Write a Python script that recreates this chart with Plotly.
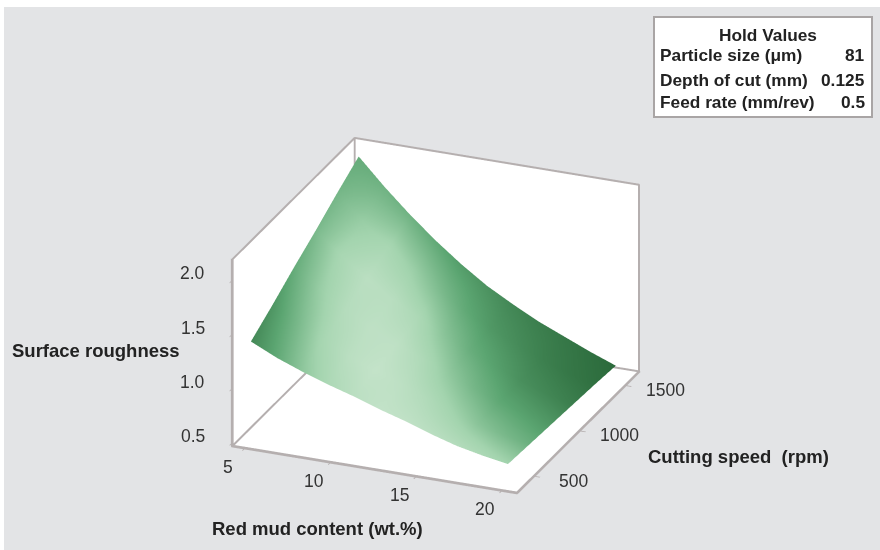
import plotly.graph_objects as go

red_mud = [5, 6.5, 8, 9.5, 11, 12.5, 14, 15.5, 17, 18.5, 20]
speed = [380, 616, 852, 1088, 1324, 1560]
roughness = [
    [1.40, 1.29, 1.20, 1.12, 1.05, 0.97, 0.90, 0.82, 0.75, 0.70, 0.66],
    [1.54, 1.41, 1.29, 1.18, 1.09, 1.00, 0.92, 0.83, 0.75, 0.69, 0.645],
    [1.69, 1.53, 1.38, 1.25, 1.14, 1.04, 0.94, 0.85, 0.76, 0.69, 0.63],
    [1.83, 1.64, 1.47, 1.32, 1.19, 1.07, 0.96, 0.86, 0.76, 0.68, 0.615],
    [1.98, 1.76, 1.56, 1.39, 1.23, 1.09, 0.97, 0.86, 0.76, 0.67, 0.60],
    [2.12, 1.88, 1.66, 1.46, 1.28, 1.12, 0.99, 0.87, 0.77, 0.67, 0.58],
]
shade = [
    [0.18, 0.38, 0.60, 0.78, 0.90, 0.97, 0.95, 0.90, 0.85, 0.78, 0.70],
    [0.26, 0.50, 0.75, 0.90, 0.98, 0.92, 0.82, 0.70, 0.58, 0.50, 0.43],
    [0.40, 0.65, 0.85, 0.93, 0.93, 0.80, 0.62, 0.48, 0.37, 0.32, 0.27],
    [0.50, 0.75, 0.90, 0.88, 0.78, 0.58, 0.42, 0.32, 0.22, 0.17, 0.12],
    [0.48, 0.65, 0.75, 0.66, 0.52, 0.38, 0.27, 0.20, 0.13, 0.08, 0.04],
    [0.40, 0.45, 0.45, 0.38, 0.30, 0.24, 0.17, 0.12, 0.08, 0.04, 0.00],
]
x_ticks = [5, 10, 15, 20]
y_ticks = [500, 1000, 1500]
z_ticks = [0.5, 1.0, 1.5, 2.0]
x_range = [4.25, 20.9]
y_range = [312, 1654]
z_range = [0.47, 2.2]
hold_labels = ["Particle size (μm)", "Depth of cut (mm)", "Feed rate (mm/rev)"]
hold_values = ["81", "0.125", "0.5"]

W, H, OX, OY = 876, 543, 4, 7
FONT = "Liberation Sans"
LINE = "#b5afaf"
axis = dict(showgrid=False, zeroline=False, showline=True, linecolor=LINE, linewidth=4,
            showbackground=True, backgroundcolor="white", ticks="outside", ticklen=6,
            tickcolor=LINE, tickwidth=2, showspikes=False, title=dict(text=""), showticklabels=False)

fig = go.Figure(go.Surface(
    x=red_mud, y=speed, z=roughness, surfacecolor=shade, cmin=0, cmax=1, showscale=False,
    colorscale=[[0, "#2b6a3b"], [0.35, "#5ba571"], [0.7, "#a3d4ae"], [1, "#c6e4cb"]],
    lighting=dict(ambient=1, diffuse=0, specular=0, roughness=1, fresnel=0),
    hoverinfo="skip"))

# frame of the walls, from the axis limits, kept just inside them so it is not clipped
ex, ey, ez = 0.03, 3, 0.004
x0, x1 = x_range[0] + ex, x_range[1] - ex
y0, y1 = y_range[0] + ey, y_range[1] - ey
z0, z1 = z_range[0] + ez, z_range[1] - ez
fig.add_trace(go.Scatter3d(
    x=[x0, x0, x1, x1, x0, None, x0, x0, x0, x1, x1, None, x0, x0],
    y=[y0, y1, y1, y1, y1, None, y1, y1, y0, y0, y1, None, y0, y0],
    z=[z1, z1, z1, z0, z0, None, z1, z0, z0, z0, z0, None, z0, z1],
    mode="lines", line=dict(color=LINE, width=4), hoverinfo="skip"))

def tick_note(x, y, z, text, dx, dy):
    return dict(x=x, y=y, z=z, text=text, showarrow=False, xshift=dx, yshift=dy,
                font=dict(family=FONT, size=17.5, color="#333333"))

notes = [tick_note(v, y0, z0, str(v), -17, -19) for v in x_ticks]
notes += [tick_note(x1, v, z0, str(v), 40, -5) for v in y_ticks]
notes += [tick_note(x0, y0, v, f"{v:.1f}", -40, 7) for v in z_ticks]

cx, cy, cz = 0.021, 0.0086, 0.148
d = 1.417
fig.update_layout(
    width=W, height=H, margin=dict(l=0, r=0, t=0, b=0),
    paper_bgcolor="#e3e4e6", showlegend=False, font=dict(family=FONT),
    scene=dict(
        domain=dict(x=[0, 1], y=[0, 1]),
        aspectmode="manual", aspectratio=dict(x=1.135, y=1.197, z=0.755),
        xaxis=dict(axis, range=x_range, tickvals=x_ticks),
        yaxis=dict(axis, range=y_range, tickvals=y_ticks),
        zaxis=dict(axis, range=z_range, tickvals=z_ticks),
        annotations=notes,
        camera=dict(projection=dict(type="orthographic"),
                    up=dict(x=0, y=0, z=1),
                    center=dict(x=cx, y=cy, z=cz),
                    eye=dict(x=cx + 0.345 * d, y=cy - 0.847 * d, z=cz + 0.4045 * d)),
    ),
)

def px(x, y, text, size=18.5, xanchor="center", **kw):
    fig.add_annotation(xref="paper", yref="paper", x=(x - OX) / W, y=1 - (y - OY) / H, text=text,
                       showarrow=False, xanchor=xanchor, yanchor="middle",
                       font=dict(family=FONT, size=size, color="#222222"), **kw)

px(95.5, 350, "<b>Surface roughness</b>")
px(317.5, 528, "<b>Red mud content (wt.%)</b>")
px(738, 456, "<b>Cutting speed  (rpm)</b>")

fig.add_shape(type="rect", xref="paper", yref="paper", x0=(654 - OX) / W, x1=(872 - OX) / W,
              y0=1 - (117 - OY) / H, y1=1 - (17 - OY) / H, fillcolor="white",
              line=dict(color="#a9a5a5", width=2))
px(768, 35, "<b>Hold Values</b>", size=17.3)
for yy, lab, val in zip([55, 80, 102], hold_labels, hold_values):
    px(658, yy, f"<b>{lab}</b>", size=17.3, xanchor="left")
    px(867, yy, f"<b>{val}</b>", size=17.3, xanchor="right")

fig.write_html("out.html", post_script=f"document.body.style.margin='{OY}px 0 0 {OX}px';")
